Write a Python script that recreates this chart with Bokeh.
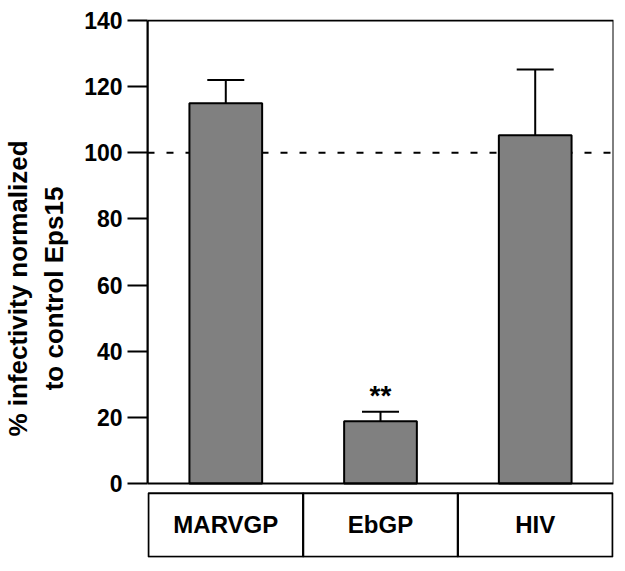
from bokeh.plotting import figure
from bokeh.models import (ColumnDataSource, Range1d, FixedTicker, Span, Whisker,
                          FactorRange, BoxAnnotation)
from bokeh.embed import file_html
from bokeh.resources import INLINE
from bokeh.core.properties import value

# ---- data ----
categories = ["MARVGP", "EbGP", "HIV"]
means = [115.0, 18.8, 105.3]
upper_err = [122.0, 21.7, 125.2]
y_ticks = [0, 20, 40, 60, 80, 100, 120, 140]
reference_level = 100
significance = ["", "**", ""]

FONT = "Liberation Sans"
Y_MIN_TABLE = -22.4   # bottom of the category table (below the zero line)
TABLE_TOP = -2.7

src = ColumnDataSource(dict(cat=categories, mean=means, up=upper_err, sig=significance,
                            sig_y=[u + 4.8 for u in upper_err]))

p = figure(x_range=FactorRange(*categories, range_padding=0.004),
           y_range=Range1d(Y_MIN_TABLE, 140.3),
           width=617, height=563, output_backend="svg", toolbar_location=None,
           min_border_left=147, min_border_right=4, min_border_top=19, min_border_bottom=6)

p.xaxis.visible = False
p.xgrid.visible = False
p.ygrid.visible = False
p.outline_line_color = None

ax = p.yaxis[0]
ax.bounds = (0, 140)
ax.ticker = FixedTicker(ticks=y_ticks)
ax.minor_tick_line_color = None
ax.major_tick_out = 20
ax.major_tick_in = 0
ax.major_tick_line_width = 2
ax.major_tick_line_color = "black"
ax.axis_line_width = 2
ax.axis_line_color = "black"
ax.major_label_standoff = 5
ax.major_label_text_font = FONT
ax.major_label_text_font_style = "bold"
ax.major_label_text_font_size = "23px"
ax.major_label_text_color = "black"
ax.axis_label = "% infectivity normalized\nto control Eps15"
ax.axis_label_text_font = FONT
ax.axis_label_text_font_style = "bold"
ax.axis_label_text_font_size = "26px"
ax.axis_label_text_color = "black"
ax.axis_label_standoff = 12

# plot box (0..140 across the full width)
p.add_layout(BoxAnnotation(bottom=0, top=140, fill_alpha=0, fill_color=None,
                           line_color="black", line_width=2, line_alpha=1.0,
                           level="overlay"))

ref = Span(location=reference_level, dimension="width", line_color="black",
           line_width=2, line_dash="7 12", level="underlay")
p.add_layout(ref)

p.vbar(x="cat", top="mean", bottom=0, width=0.47, source=src,
       fill_color="#808080", line_color="black", line_width=2)

wh = Whisker(base="cat", upper="up", lower="mean", dimension="height", source=src,
             line_color="black", line_width=2, lower_head=None)
wh.upper_head.size = 37
wh.upper_head.line_width = 2
wh.upper_head.line_color = "black"
p.add_layout(wh)

p.text(x="cat", y="sig_y", text="sig", source=src, text_align="center",
       text_baseline="alphabetic", text_font=value(FONT), text_font_style="bold",
       text_font_size="28px", text_color="black")

# ---- category table below the plot box ----
tsrc = ColumnDataSource(dict(cat=categories,
                             y=[(TABLE_TOP + Y_MIN_TABLE) / 2] * len(categories)))
p.rect(x="cat", y="y", width=1, height=(TABLE_TOP - Y_MIN_TABLE) - 0.5, source=tsrc,
       fill_color=None, line_color="black", line_width=2)
p.text(x="cat", y="y", text="cat", source=tsrc, text_align="center",
       text_baseline="middle", text_font=value(FONT), text_font_style="bold",
       text_font_size="24px", text_color="black")

open("out.html", "w").write(file_html(p, INLINE))
